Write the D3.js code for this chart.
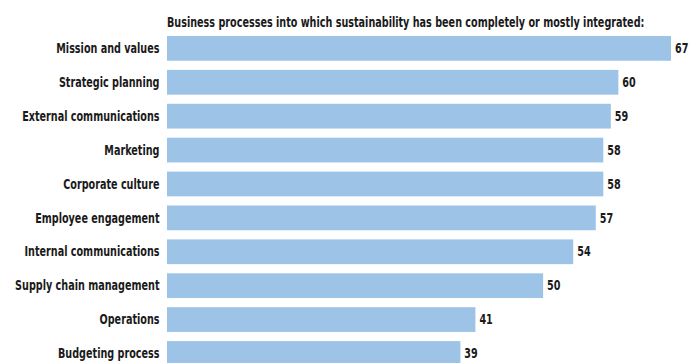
<html>
<head>
<script src="https://cdnjs.cloudflare.com/ajax/libs/d3/7.8.5/d3.min.js"></script>
<style>
  body { margin: 0; background: #fff; }
  text { font-family: "DejaVu Sans Condensed", "DejaVu Sans", sans-serif; font-weight: bold; fill: #1a1a1a; }
</style>
</head>
<body>
<svg></svg>
<script>
  const categories = ["Mission and values", "Strategic planning", "External communications", "Marketing",
    "Corporate culture", "Employee engagement", "Internal communications", "Supply chain management",
    "Operations", "Budgeting process"];
  const values = [67, 60, 59, 58, 58, 57, 54, 50, 41, 39];
  const title = "Business processes into which sustainability has been completely or mostly integrated:";

  const width = 692, height = 363;
  const left = 167;
  const step = 33.9, pad = 0.27;

  const svg = d3.select('svg').attr('width', width).attr('height', height);

  const x = d3.scaleLinear().domain([0, 67]).range([left, 671]);
  const y = d3.scaleBand().domain(categories)
      .range([36, 36 + step * (categories.length - pad)])
      .paddingInner(pad).paddingOuter(0);

  const data = categories.map((c, i) => ({cat: c, val: values[i]}));

  svg.selectAll('rect.bar').data(data).enter().append('rect')
      .attr('class', 'bar')
      .attr('x', x(0))
      .attr('y', d => y(d.cat))
      .attr('width', d => x(d.val) - x(0))
      .attr('height', y.bandwidth())
      .attr('fill', '#9dc3e6');

  // narrow the glyphs to look like a condensed face
  const titleText = svg.append('text')
      .attr('font-size', 13.5)
      .text(title);
  const squeeze = 478 / titleText.node().getComputedTextLength();
  titleText.attr('transform', `translate(${left},27) scale(${squeeze},1)`);

  svg.selectAll('text.lbl').data(data).enter().append('text')
      .attr('class', 'lbl')
      .attr('transform', d => `translate(${left - 7.5},${y(d.cat) + y.bandwidth() / 2}) scale(${squeeze},1)`)
      .attr('dy', '0.35em')
      .attr('text-anchor', 'end')
      .attr('font-size', 13.5)
      .text(d => d.cat);

  svg.selectAll('text.val').data(data).enter().append('text')
      .attr('class', 'val')
      .attr('transform', d => `translate(${x(d.val) + 4},${y(d.cat) + y.bandwidth() / 2}) scale(${squeeze},1)`)
      .attr('dy', '0.35em')
      .attr('font-size', 13.5)
      .text(d => d.val);
</script>
</body>
</html>
